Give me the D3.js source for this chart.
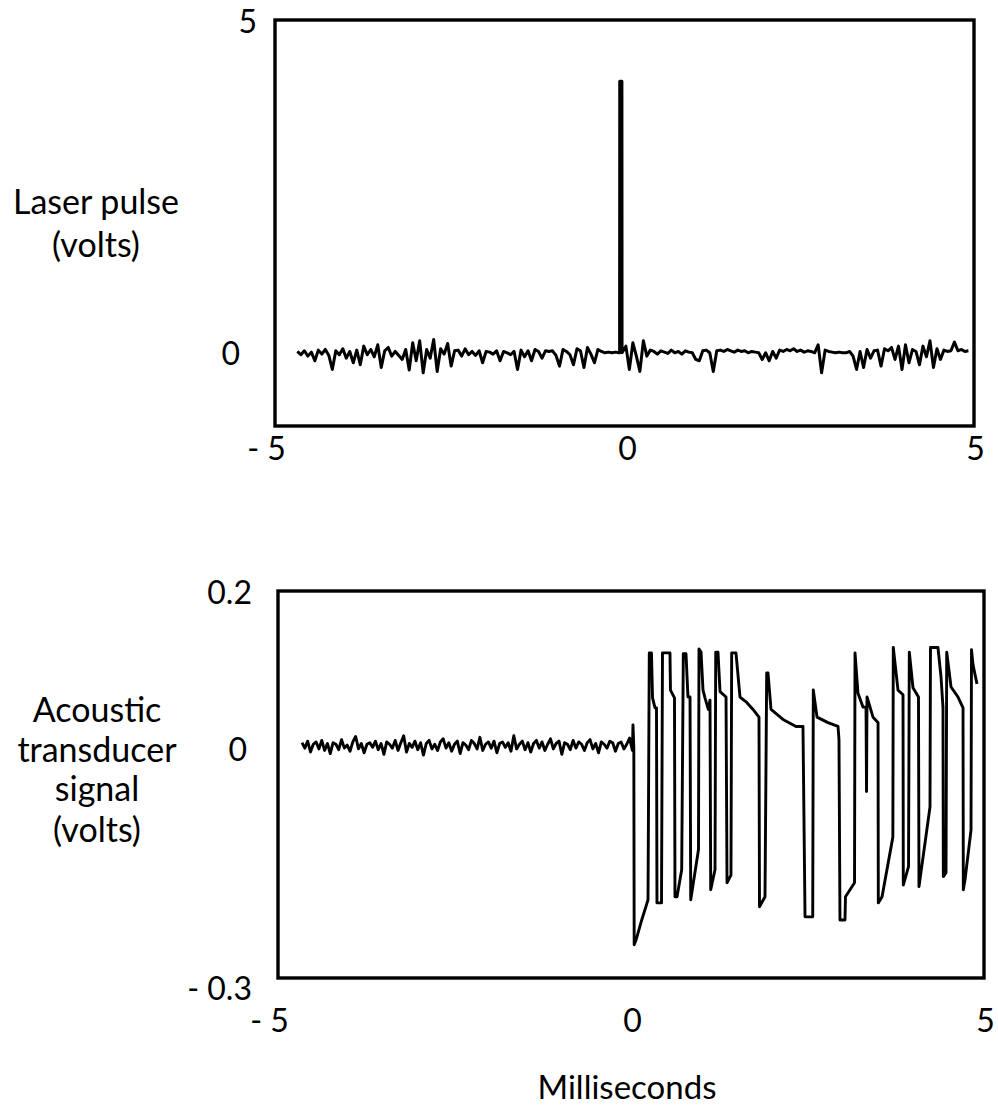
<!DOCTYPE html>
<html><head><meta charset="utf-8">
<script src="https://cdn.jsdelivr.net/npm/d3@7"></script>
<style>
body{margin:0;background:#fff}
svg{display:block}
text{font-family:Lato,"Open Sans",sans-serif;fill:#000}
</style>
</head><body>
<svg id="chart" width="998" height="1115"></svg>
<script>
// ---------------- data ----------------
const xTicks = [-5, 0, 5];
const xTickLabels = ["- 5", "0", "5"];
const laserTicks = [0, 5];
const laserTickLabels = ["0", "5"];
const acousticTicks = [-0.3, 0, 0.2];
const acousticTickLabels = ["- 0.3", "0", "0.2"];
const laserTitle = ["Laser pulse", "(volts)"];
const acousticTitle = ["Acoustic", "transducer", "signal", "(volts)"];
const xTitle = "Milliseconds";

// laser noise sampled every 0.05 ms
const laserSampleStep = 0.05;
const laserBeforeStart = -4.68;
const laserNoiseBefore = [
 0.02,-0.03,0.03,-0.05,0.01,-0.12,0.04,-0.02,0.05,-0.04,
 -0.25,0.03,-0.03,0.06,-0.08,0.02,-0.15,0.04,-0.18,0.1,
 -0.03,0.05,-0.06,0.12,-0.22,0.03,0.08,-0.05,0.02,-0.04,
 -0.1,0.05,-0.26,0.15,-0.12,0.18,-0.3,0.05,-0.08,0.2,
 -0.28,0.06,-0.02,0.14,-0.2,0.03,0.04,-0.05,0.06,-0.03,
 0.02,-0.04,0.03,-0.15,0.02,0.01,-0.02,0.03,-0.12,0.02,
 0.0,-0.03,0.02,-0.25,0.04,-0.06,0.03,-0.12,0.05,0.02,
 -0.08,0.03,0.02,0.03,-0.04,-0.2,0.05,0.02,-0.03,-0.18,
 0.06,0.03,-0.22,0.08,-0.02,-0.15,0.05,0.02,0.0,0.01,
 0.0,0.01,0.0
];
const laserPulse = [[-0.07, 0], [-0.068, 4.08], [-0.037, 4.08], [-0.035, 0]];
const laserAfterStart = 0.02;
const laserNoiseAfter = [
 0.1,-0.25,0.15,-0.05,-0.28,0.18,-0.05,0.04,
 0.02,-0.02,0.03,0.01,-0.01,0.04,0.0,0.02,-0.02,0.03,0.01,0.0,
 -0.1,-0.12,0.03,0.04,0.0,-0.28,0.03,
 0.04,0.02,0.05,0.03,0.01,0.04,0.02,0.03,0.0,0.02,0.01,0.0,
 -0.1,0.0,-0.12,0.02,-0.08,0.04,
 0.02,0.05,0.03,0.06,0.02,0.04,0.01,0.03,0.02,0.0,
 0.12,-0.3,0.04,
 0.02,0.01,0.0,0.01,0.0,0.0,
 0.02,-0.05,-0.25,0.02,-0.22,0.05,-0.08,0.03,0.04,-0.2,
 0.06,0.03,0.08,-0.1,0.1,-0.25,0.12,-0.15,0.05,0.02,
 -0.18,0.1,-0.06,0.18,-0.22,0.06,-0.1,0.04,0.02,0.03,
 0.16,0.03,0.05,0.02,0.03
];

// acoustic baseline noise sampled every 0.04 ms
const acousticSampleStep = 0.04;
const acousticNoiseStart = -4.66;
const acousticNoise = [
 0.004,-0.003,0.006,-0.008,0.002,0.005,-0.004,0.007,-0.006,0.003,
 -0.010,0.004,0.002,-0.005,0.008,-0.003,0.001,-0.007,0.005,0.012,
 -0.004,0.003,-0.009,0.002,0.004,-0.002,0.006,-0.005,0.003,-0.011,
 0.005,0.002,-0.003,0.007,-0.006,0.004,0.013,-0.008,0.003,-0.002,
 0.006,-0.005,0.004,-0.012,0.003,0.007,-0.004,0.002,-0.006,0.005,
 0.009,-0.003,0.004,-0.007,0.002,0.006,-0.010,0.004,0.001,-0.005,
 0.007,0.003,-0.004,0.011,-0.006,0.002,0.005,-0.003,0.006,-0.009,
 0.003,0.005,-0.002,0.004,-0.007,0.013,-0.004,0.002,0.006,-0.005,
 0.004,-0.008,0.003,0.007,-0.003,0.005,-0.006,0.002,0.009,-0.004,
 0.003,0.006,-0.011,0.004,0.002,-0.005,0.007,-0.003,0.005,0.002,
 -0.006,0.004,0.008,-0.004,0.003,-0.009,0.005,0.002,-0.003,0.006,
 0.004,-0.007,0.003,0.005,-0.004,0.002,0.010,-0.006
];
// acoustic response after the pulse: [ms, volts]
const acousticEvents = [
 [0.028,0.027],[0.040,-0.003],[0.045,-0.257],[0.071,-0.251],[0.152,-0.225],[0.241,-0.199],
 [0.259,0.120],[0.290,0.120],[0.305,0.062],[0.340,0.049],[0.361,0.049],[0.368,-0.203],[0.432,-0.203],
 [0.446,0.120],[0.552,0.120],[0.559,0.072],[0.616,0.062],[0.623,-0.195],[0.652,-0.195],[0.718,-0.160],
 [0.741,0.119],[0.779,0.119],[0.807,0.063],[0.836,0.063],[0.846,-0.199],[0.956,-0.134],
 [0.963,0.125],[0.992,0.121],[1.020,0.072],[1.048,0.062],[1.095,0.047],[1.119,0.059],[1.129,-0.186],[1.190,-0.160],
 [1.200,0.121],[1.232,0.121],[1.261,0.070],[1.346,0.063],[1.360,-0.177],[1.416,-0.167],
 [1.426,0.120],[1.487,0.120],[1.544,0.063],[1.639,0.056],[1.728,0.047],[1.813,0.037],[1.820,-0.208],[1.898,-0.195],
 [1.922,0.094],[1.941,0.094],[1.983,0.047],[2.153,0.034],[2.337,0.025],[2.436,0.025],[2.465,-0.221],[2.574,-0.221],
 [2.582,0.072],[2.635,0.037],[2.790,0.030],[2.932,0.025],[2.946,0.008],[2.960,-0.225],[3.031,-0.225],[3.038,-0.195],[3.166,-0.177],
 [3.173,0.120],[3.215,0.068],[3.286,0.050],[3.329,0.050],[3.336,-0.059],[3.343,0.063],[3.428,0.037],[3.499,0.030],[3.503,-0.203],[3.556,-0.195],[3.709,-0.118],
 [3.715,0.127],[3.782,0.072],[3.853,0.066],[3.857,-0.180],[3.931,-0.156],
 [3.942,0.121],[3.994,0.075],[4.072,0.063],[4.079,-0.182],[4.235,-0.079],
 [4.242,0.127],[4.348,0.127],[4.391,0.089],[4.419,0.050],[4.424,-0.169],[4.462,-0.164],
 [4.472,0.121],[4.533,0.076],[4.632,0.063],[4.703,0.049],[4.707,-0.186],[4.731,-0.173],[4.816,-0.109],
 [4.823,0.124],[4.844,0.105],[4.873,0.092],[4.901,0.080]
];

// ---------------- drawing ----------------
const svg = d3.select("#chart");
const TICK_FS = 32;
const TITLE_FS = 34;

function panel(cfg) {
  const x = d3.scaleLinear().domain([-5, 5]).range([cfg.left, cfg.right]);
  const y = d3.scaleLinear().domain(cfg.yDomain).range([cfg.bottom, cfg.top]);
  const g = svg.append("g");

  // signal
  g.append("path")
    .datum(cfg.points)
    .attr("fill", "none")
    .attr("stroke", "#000")
    .attr("stroke-width", cfg.lineWidth)
    .attr("stroke-linejoin", "round")
    .attr("d", d3.line().x(d => x(d[0])).y(d => y(d[1])));

  // frame
  g.append("rect")
    .attr("x", cfg.left).attr("y", cfg.top)
    .attr("width", cfg.right - cfg.left).attr("height", cfg.bottom - cfg.top)
    .attr("fill", "none").attr("stroke", "#000").attr("stroke-width", 3.4);

  // y axis
  const ya = g.append("g").attr("transform", `translate(${cfg.left},0)`)
    .call(d3.axisLeft(y).tickValues(cfg.yTicks).tickFormat((d, i) => cfg.yLabels[i]).tickSize(0));
  ya.select(".domain").remove();
  ya.selectAll("text")
    .attr("font-size", TICK_FS).attr("font-family", null)
    .attr("text-anchor", "end")
    .attr("x", (d, i) => -cfg.yGap[i])
    .attr("dy", (d, i) => cfg.yDy[i]);

  // x axis
  const xa = g.append("g").attr("transform", `translate(0,${cfg.bottom})`)
    .call(d3.axisBottom(x).tickValues(xTicks).tickFormat((d, i) => xTickLabels[i]).tickSize(0));
  xa.select(".domain").remove();
  xa.selectAll("text")
    .attr("font-size", TICK_FS).attr("font-family", null)
    .attr("y", cfg.xLabelOffset).attr("dy", "0.36em")
    .attr("x", (d, i) => cfg.xDx[i]);

  // title
  const t = g.append("text").attr("text-anchor", "middle").attr("font-size", TITLE_FS);
  cfg.title.forEach((s, i) => {
    t.append("tspan").attr("x", cfg.titleX).attr("y", cfg.titleY[i]).text(s);
  });
  return { x, y };
}

const laserPoints = laserNoiseBefore.map((v, i) => [laserBeforeStart + i * laserSampleStep, v])
  .concat(laserPulse)
  .concat(laserNoiseAfter.map((v, i) => [laserAfterStart + i * laserSampleStep, v]));

const acousticPoints = acousticNoise.map((v, i) => [acousticNoiseStart + i * acousticSampleStep, v])
  .concat(acousticEvents);

panel({
  left: 275, right: 974, top: 20, bottom: 426,
  yDomain: [-1.1, 5],
  points: laserPoints, lineWidth: 3,
  yTicks: laserTicks, yLabels: laserTickLabels,
  yGap: [35, 18], yDy: ["0.38em", "0.4em"],
  xLabelOffset: 22, xDx: [-9, 2.5, 1],
  title: laserTitle, titleX: 96, titleY: [214, 257]
});

const bottom = panel({
  left: 278, right: 984, top: 591, bottom: 978,
  yDomain: [-0.3, 0.2],
  points: acousticPoints, lineWidth: 2.9,
  yTicks: acousticTicks, yLabels: acousticTickLabels,
  yGap: [26, 31, 26], yDy: ["0.66em", "0.46em", "0.4em"],
  xLabelOffset: 42, xDx: [-9, 1, 1],
  title: acousticTitle, titleX: 97, titleY: [722, 762, 801, 842]
});

svg.append("text")
  .attr("x", bottom.x(0) - 4).attr("y", 1099)
  .attr("text-anchor", "middle").attr("font-size", 33)
  .text(xTitle);
</script>
</body></html>
